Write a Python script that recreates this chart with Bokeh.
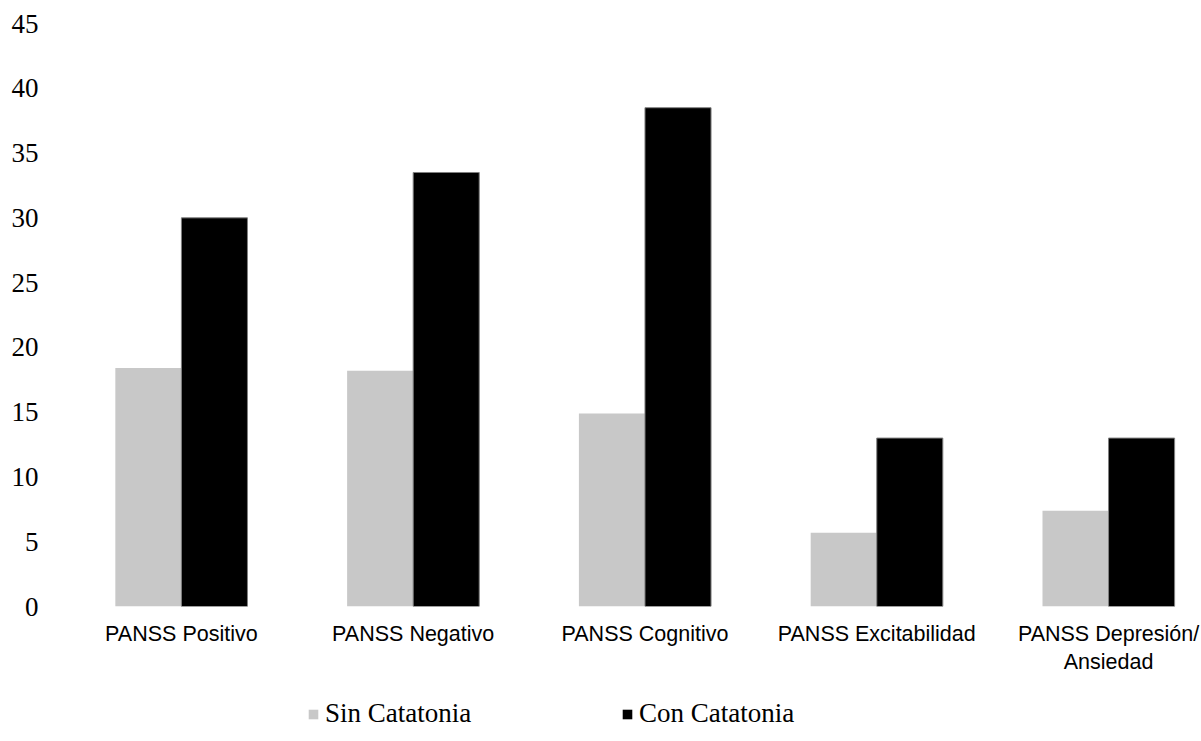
from bokeh.plotting import figure
from bokeh.models import ColumnDataSource, Range1d, FixedTicker, Legend, LegendItem
from bokeh.layouts import column
from bokeh.transform import dodge
from bokeh.embed import file_html
from bokeh.resources import INLINE

categories = ["PANSS Positivo", "PANSS Negativo", "PANSS Cognitivo",
              "PANSS Excitabilidad", "PANSS Depresión/\nAnsiedad"]
sin_catatonia = [18.4, 18.2, 14.9, 5.7, 7.4]
con_catatonia = [30.0, 33.5, 38.5, 13.0, 13.0]
series_names = ["Sin Catatonia", "Con Catatonia"]
series_colors = ["#c8c8c8", "#000000"]
y_ticks = [0, 5, 10, 15, 20, 25, 30, 35, 40, 45]

src = ColumnDataSource(dict(x=list(range(len(categories))),
                            sin=sin_catatonia, con=con_catatonia))

H1 = 690
p = figure(width=1201, height=H1, output_backend="svg", toolbar_location=None,
           x_range=Range1d(-0.5, 4.401), y_range=Range1d(0, 45),
           min_border_left=65, min_border_right=0, min_border_top=23,
           min_border_bottom=H1 - 606)
p.outline_line_color = None
p.grid.visible = False
p.background_fill_color = "white"
p.border_fill_color = "white"

bw = 0.285
p.vbar(x=dodge("x", -bw / 2, range=p.x_range), top="sin", width=bw,
       source=src, fill_color=series_colors[0], line_color=None)
p.vbar(x=dodge("x", bw / 2, range=p.x_range), top="con", width=bw,
       source=src, fill_color=series_colors[1], line_color="#808080", line_width=1)

# x axis
xa = p.xaxis[0]
xa.ticker = FixedTicker(ticks=list(range(len(categories))))
xa.major_label_overrides = {i: c for i, c in enumerate(categories)}
xa.axis_line_color = None
xa.major_tick_line_color = None
xa.minor_tick_line_color = None
xa.major_tick_out = 0
xa.major_tick_in = 0
xa.major_label_standoff = 15
xa.major_label_text_font = "Liberation Sans"
xa.major_label_text_font_size = "21.5px"
xa.major_label_text_color = "#000000"

# y axis
ya = p.yaxis[0]
ya.ticker = FixedTicker(ticks=y_ticks)
ya.axis_line_color = None
ya.major_tick_line_color = None
ya.minor_tick_line_color = None
ya.major_tick_out = 0
ya.major_tick_in = 0
ya.major_label_standoff = 27
ya.major_label_text_font = "Liberation Serif"
ya.major_label_text_font_size = "27px"
ya.major_label_text_color = "#000000"

# legend strip (separate small figure below the chart)
H2 = 741 - H1
lgf = figure(width=1201, height=H2, output_backend="svg", toolbar_location=None,
             x_range=Range1d(0, 1201), y_range=Range1d(0, H2),
             min_border=0, x_axis_type=None, y_axis_type=None)
lgf.outline_line_color = None
lgf.grid.visible = False
lgf.border_fill_color = "white"

legend_x = [307, 621]
for name, color, lx in zip(series_names, series_colors, legend_x):
    # zero-height proxy bar: draws nothing, only supplies the legend swatch
    proxy = lgf.vbar(x=[0], top=[0], bottom=[0], width=1,
                     fill_color=color, line_color=None)
    lg = Legend(items=[LegendItem(label=name, renderers=[proxy])],
                location=(lx - 65, 12), padding=0, margin=0, spacing=0,
                glyph_width=12, glyph_height=12, label_standoff=6,
                border_line_color=None, background_fill_alpha=0,
                label_text_font="Liberation Serif", label_text_font_size="27px",
                label_text_color="#000000")
    lgf.add_layout(lg, "center")

layout = column(p, lgf, spacing=0)
open("out.html", "w").write(file_html(layout, INLINE))
